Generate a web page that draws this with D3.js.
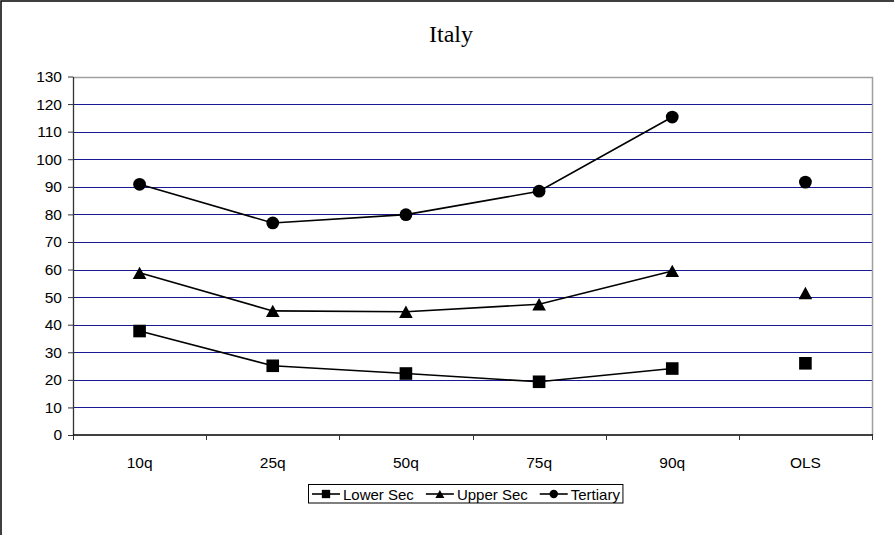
<!DOCTYPE html>
<html>
<head>
<meta charset="utf-8">
<script src="https://cdn.jsdelivr.net/npm/d3@7"></script>
<style>
  html, body { margin: 0; padding: 0; background: #fff; }
  svg { display: block; }
</style>
</head>
<body>
<svg id="chart" width="894" height="535"></svg>
<script>
// ---- data ----
const title = "Italy";
const categories = ["10q", "25q", "50q", "75q", "90q", "OLS"];
const connectedCategories = ["10q", "25q", "50q", "75q", "90q"];
const seriesNames = ["Lower Sec", "Upper Sec", "Tertiary"];
const seriesSymbols = ["square", "triangle", "circle"];
const lowerSec = [37.7, 25.1, 22.3, 19.3, 24.1, 26.0];
const upperSec = [58.8, 45.0, 44.7, 47.4, 59.5, 51.5];
const tertiary = [90.9, 76.9, 79.9, 88.4, 115.3, 91.7];
const yTicks = [0, 10, 20, 30, 40, 50, 60, 70, 80, 90, 100, 110, 120, 130];

const seriesValues = [lowerSec, upperSec, tertiary];
const series = seriesNames.map((name, i) => ({
  name, symbol: seriesSymbols[i],
  points: categories.map((c, j) => ({ cat: c, v: seriesValues[i][j] }))
}));

// ---- layout ----
const W = 894, H = 535;
const plot = { left: 73, right: 872, top: 76.5, bottom: 435 };
const svg = d3.select("#chart");
const sans = "Liberation Sans, Arial, sans-serif";

svg.append("rect").attr("x", 0).attr("y", 0).attr("width", W).attr("height", H).attr("fill", "#fff");
// outer chart border (left & top visible)
svg.append("rect").attr("x", 1).attr("y", 1).attr("width", W + 10).attr("height", H + 10)
  .attr("fill", "none").attr("stroke", "#000").attr("stroke-width", 1.5);

const x = d3.scaleBand().domain(categories).range([plot.left, plot.right]).padding(0);
const y = d3.scaleLinear().domain([0, 130]).range([plot.bottom, plot.top]);

// gridlines
svg.append("g").selectAll("line")
  .data(yTicks.filter(t => t > 0 && t < 130))
  .join("line")
  .attr("x1", plot.left).attr("x2", plot.right)
  .attr("y1", d => Math.round(y(d)) + 0.5).attr("y2", d => Math.round(y(d)) + 0.5)
  .attr("stroke", "#1a1a90").attr("stroke-width", 1.2);

// plot area border top/right (grey)
svg.append("path")
  .attr("d", `M${plot.left},${Math.round(y(130)) + 0.5}H${plot.right + 0.5}V${plot.bottom}`)
  .attr("fill", "none").attr("stroke", "#a0a0a0").attr("stroke-width", 1.5);

// y axis
const yAxis = d3.axisLeft(y).tickValues(yTicks).tickSize(5).tickPadding(6).tickSizeOuter(0);
const gy = svg.append("g").attr("transform", `translate(${plot.left},0)`).call(yAxis);
gy.select(".domain").attr("stroke", "#333").attr("stroke-width", 1.3);
gy.selectAll(".tick line").attr("stroke", "#333");
gy.selectAll(".tick text")
  .attr("font-family", sans).attr("font-size", 15.5).attr("fill", "#000");

// x axis: ticks at band boundaries
const gx = svg.append("g").attr("transform", `translate(0,${plot.bottom})`);
gx.append("line").attr("x1", plot.left).attr("x2", plot.right + 1).attr("y1", 0).attr("y2", 0)
  .attr("stroke", "#000").attr("stroke-width", 1.3);
const boundaries = categories.map(c => x(c)).concat([x(categories[categories.length - 1]) + x.bandwidth()]);
gx.selectAll("line.tk").data(boundaries).join("line").attr("class", "tk")
  .attr("x1", d => Math.round(d) + 0.5).attr("x2", d => Math.round(d) + 0.5)
  .attr("y1", 0).attr("y2", 5).attr("stroke", "#333");
gx.selectAll("text").data(categories).join("text")
  .attr("x", d => x(d) + x.bandwidth() / 2).attr("y", 32.5)
  .attr("text-anchor", "middle")
  .attr("font-family", sans).attr("font-size", 15.5).attr("fill", "#000")
  .text(d => d);

// title
svg.append("text").attr("x", 451).attr("y", 42).attr("text-anchor", "middle")
  .attr("font-family", "Liberation Serif, Times New Roman, serif").attr("font-size", 24).attr("fill", "#000")
  .text(title);

// symbols (bounding box centred on the data point, like the original)
function symbolPath(kind, s) {
  if (kind === "square") { const h = 6.3 * s; return `M${-h},${-h}H${h}V${h}H${-h}Z`; }
  if (kind === "triangle") { const w = 6.8 * s, h = 6.2 * s; return `M0,${-h}L${w},${h}L${-w},${h}Z`; }
  const r = 6.4 * s;
  return `M${r},0A${r},${r} 0 1,1 ${-r},0A${r},${r} 0 1,1 ${r},0Z`;
}

const cx = d => x(d.cat) + x.bandwidth() / 2;
const line = d3.line().x(cx).y(d => y(d.v));

series.forEach(s => {
  const g = svg.append("g");
  g.append("path")
    .datum(s.points.filter(p => connectedCategories.includes(p.cat)))
    .attr("d", line).attr("fill", "none").attr("stroke", "#000").attr("stroke-width", 1.6);
  g.selectAll("path.m").data(s.points).join("path").attr("class", "m")
    .attr("transform", d => `translate(${cx(d)},${y(d.v)})`)
    .attr("d", symbolPath(s.symbol, 1))
    .attr("fill", "#000");
});

// legend
const legend = svg.append("g");
const lgBox = legend.append("rect").attr("x", 308.5).attr("y", 484.5).attr("height", 18.5)
  .attr("fill", "#fff").attr("stroke", "#000").attr("stroke-width", 1);
let lx = 312;
series.forEach(s => {
  const item = legend.append("g");
  item.append("line").attr("x1", lx).attr("x2", lx + 28).attr("y1", 494).attr("y2", 494)
    .attr("stroke", "#000").attr("stroke-width", 1.6);
  item.append("path").attr("transform", `translate(${lx + 14},494)`)
    .attr("d", symbolPath(s.symbol, 0.66)).attr("fill", "#000");
  const t = item.append("text").attr("x", lx + 31).attr("y", 499.5)
    .attr("font-family", sans).attr("font-size", 15).attr("fill", "#000")
    .text(s.name);
  lx = lx + 31 + t.node().getComputedTextLength() + 12;
});
lgBox.attr("width", lx - 12 + 3 - 308.5);
</script>
</body>
</html>
